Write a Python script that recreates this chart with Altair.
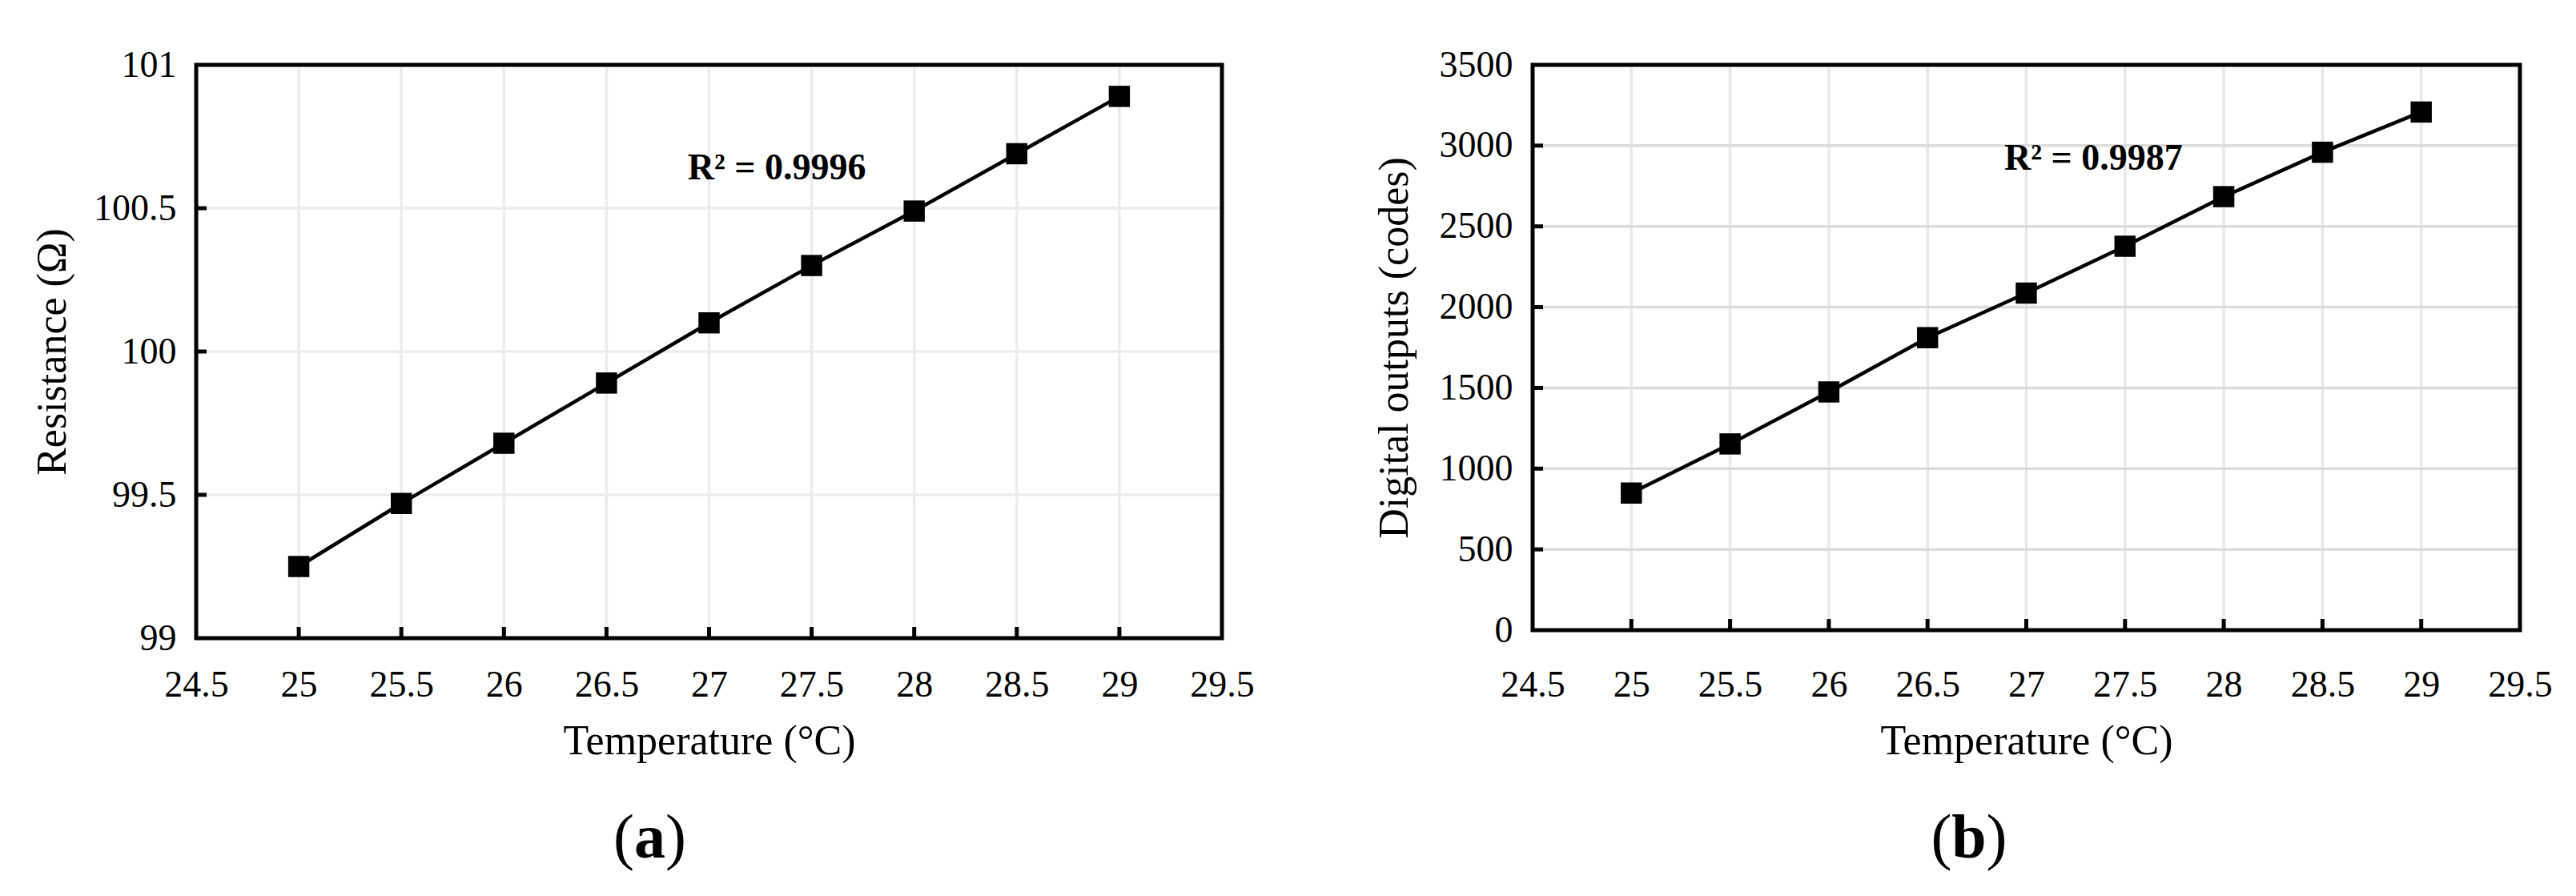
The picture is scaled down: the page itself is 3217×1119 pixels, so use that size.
import altair as alt
import pandas as pd

# ---------------- data ----------------
temperature = [25, 25.5, 26, 26.5, 27, 27.5, 28, 28.5, 29]
resistance = [99.25, 99.47, 99.68, 99.89, 100.10, 100.30, 100.49, 100.69, 100.89]
digital_codes = [849, 1153, 1475, 1811, 2087, 2377, 2684, 2959, 3208]

x_tick_values = [24.5, 25, 25.5, 26, 26.5, 27, 27.5, 28, 28.5, 29, 29.5]
x_inner_ticks = [25, 25.5, 26, 26.5, 27, 27.5, 28, 28.5, 29]
y_ticks_a = [99, 99.5, 100, 100.5, 101]
y_inner_a = [99.5, 100, 100.5]
y_ticks_b = [0, 500, 1000, 1500, 2000, 2500, 3000, 3500]
y_inner_b = [500, 1000, 1500, 2000, 2500, 3000]

x_title = "Temperature (°C)"
y_title_a = "Resistance (Ω)"
y_title_b = "Digital outputs (codes)"
r2_text_a = "R² = 0.9996"
r2_text_b = "R² = 0.9987"
r2_pos_a = [27.33, 100.60]
r2_pos_b = [27.34, 2850]
letters = ["a", "b"]

FONT = "Liberation Serif"


def make_panel(yvals, ydomain, yticks, yinner, yfmt, ytitle, r2text, r2pos,
               letter, W, H, letter_cx, ytitle_x, xlabel_pad, xtitle_y,
               hgrid_color, vgrid_color, letter_w):
    xs = alt.Scale(domain=[24.5, 29.5], nice=False, zero=False)
    ys = alt.Scale(domain=ydomain, nice=False, zero=False)
    df = pd.DataFrame({"T": temperature, "V": yvals})

    xaxis = alt.Axis(values=x_tick_values, format=".1~f", title=x_title,
                     grid=False, domain=False, ticks=False, tickSize=0,
                     labelFont=FONT, labelFontSize=46, labelColor="black",
                     labelBaseline="alphabetic", labelPadding=xlabel_pad,
                     labelFlush=False, labelOverlap=False, labelBound=False,
                     titleFont=FONT, titleFontSize=52, titleFontWeight="normal",
                     titleColor="black", titleBaseline="alphabetic",
                     titleX=W / 2, titleY=xtitle_y, titleAnchor="middle")
    yaxis = alt.Axis(values=yticks, format=yfmt, title=ytitle,
                     grid=False, domain=False, ticks=False, tickSize=0,
                     labelFont=FONT, labelFontSize=46, labelColor="black",
                     labelBaseline="middle", labelPadding=25,
                     labelFlush=False, labelOverlap=False, labelBound=False,
                     titleFont=FONT, titleFontSize=52, titleFontWeight="normal",
                     titleColor="black", titleBaseline="alphabetic",
                     titleAngle=270, titleAlign="center",
                     titleX=ytitle_x, titleY=H / 2)

    def X(f):
        return alt.X(f, scale=xs, axis=xaxis, title=x_title)

    def Y(f):
        return alt.Y(f, scale=ys, axis=yaxis, title=ytitle)

    vgrid = alt.Chart(pd.DataFrame({"g": x_inner_ticks})).mark_rule(
        color=vgrid_color, strokeWidth=3.5
    ).encode(x=X("g:Q"), y=alt.value(3), y2=alt.value(H - 3))
    hgrid = alt.Chart(pd.DataFrame({"g": yinner})).mark_rule(
        color=hgrid_color, strokeWidth=3.5
    ).encode(y=Y("g:Q"), x=alt.value(3), x2=alt.value(W - 3))

    base = alt.Chart(df).encode(x=X("T:Q"), y=Y("V:Q"))
    line = base.mark_line(color="black", strokeWidth=4.5)
    pts = base.mark_point(shape="square", filled=True, size=700, color="black", opacity=1)

    xt = alt.Chart(pd.DataFrame({"g": x_inner_ticks})).mark_rule(
        color="black", strokeWidth=5
    ).encode(x=X("g:Q"), y=alt.value(H), y2=alt.value(H - 14))
    yt = alt.Chart(pd.DataFrame({"g": yinner})).mark_rule(
        color="black", strokeWidth=5
    ).encode(y=Y("g:Q"), x=alt.value(0), x2=alt.value(13))

    r2 = alt.Chart(pd.DataFrame({"x": [r2pos[0]], "y": [r2pos[1]], "t": [r2text]})).mark_text(
        font=FONT, fontSize=46, fontWeight="bold", baseline="alphabetic",
        align="center", color="black"
    ).encode(x=X("x:Q"), y=Y("y:Q"), text="t:N")

    ly = 989.5
    half = letter_w / 2 + 13
    lp = alt.Chart(pd.DataFrame({"t": ["("]})).mark_text(
        font=FONT, fontSize=78, baseline="alphabetic", align="center", color="black"
    ).encode(x=alt.value(letter_cx - half), y=alt.value(ly), text="t:N")
    lm = alt.Chart(pd.DataFrame({"t": [letter]})).mark_text(
        font=FONT, fontSize=78, fontWeight="bold", baseline="alphabetic",
        align="center", color="black"
    ).encode(x=alt.value(letter_cx), y=alt.value(ly), text="t:N")
    rp = alt.Chart(pd.DataFrame({"t": [")"]})).mark_text(
        font=FONT, fontSize=78, baseline="alphabetic", align="center", color="black"
    ).encode(x=alt.value(letter_cx + half), y=alt.value(ly), text="t:N")

    return alt.layer(vgrid, hgrid, line, pts, xt, yt, r2, lp, lm, rp).properties(width=W, height=H)


panel_a = make_panel(resistance, [99, 101], y_ticks_a, y_inner_a, ".1~f", y_title_a,
                     r2_text_a, r2_pos_a, letters[0], 1281, 716, 566.5, -163.5,
                     72.5, 144.5, "#ececec", "#ececec", 39)
panel_b = make_panel(digital_codes, [0, 3500], y_ticks_b, y_inner_b, "d", y_title_b,
                     r2_text_b, r2_pos_b, letters[1], 1233, 706, 545, -157,
                     82.5, 154.5, "#dcdcdc", "#e8e8e8", 43)

chart = alt.hconcat(panel_a, panel_b, spacing=388, bounds="flush").properties(
    padding={"left": 29, "top": 47, "right": 5, "bottom": 5},
    background="white",
).configure_view(stroke="black", strokeWidth=5)

chart.save("out.html", embed_options={"renderer": "svg", "actions": False})
